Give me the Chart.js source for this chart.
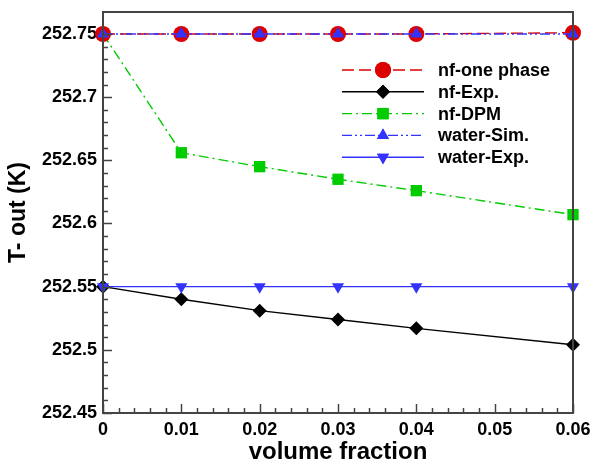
<!DOCTYPE html>
<html>
<head>
<meta charset="utf-8">
<script src="https://cdn.jsdelivr.net/npm/chart.js@4/dist/chart.umd.min.js"></script>
<style>
html,body{margin:0;padding:0;background:#fff;}
#wrap{width:591px;height:463px;position:relative;}
</style>
</head>
<body>
<div id="wrap"><canvas id="c" width="591" height="463"></canvas></div>
<script>
// ---- data ----
const volumeFraction = [0, 0.01, 0.02, 0.03, 0.04, 0.06];
const nfOnePhase = [252.75, 252.75, 252.75, 252.75, 252.75, 252.751];
const nfExp      = [252.55, 252.54, 252.531, 252.524, 252.517, 252.504];
const nfDPM      = [252.75, 252.656, 252.645, 252.635, 252.626, 252.607];
const waterSim   = [252.75, 252.75, 252.75, 252.75, 252.75, 252.75];
const waterExp   = [252.55, 252.55, 252.55, 252.55, 252.55, 252.55];

const xTicks = [0, 0.01, 0.02, 0.03, 0.04, 0.05, 0.06];
const xTickLabels = ['0', '0.01', '0.02', '0.03', '0.04', '0.05', '0.06'];
const yTicks = [252.45, 252.5, 252.55, 252.6, 252.65, 252.7, 252.75];
const yTickLabels = ['252.45', '252.5', '252.55', '252.6', '252.65', '252.7', '252.75'];
const xMinorStep = 0.002;
const yMinorStep = 0.01;

const FONT = '"Liberation Sans", Arial, sans-serif';
const RED = 'rgb(220,0,0)';
const GREEN = 'rgb(0,204,0)';
const BLUE = 'rgb(51,51,255)';
const BLACK = '#000';

function pts(ys){ return volumeFraction.map((x,i)=>({x:x, y:ys[i]})); }

const datasets = [
  {label:'nf-one phase', data:pts(nfOnePhase), borderColor:RED, backgroundColor:RED, borderDash:[12,5],
   pointStyle:'circle', pointRadius:8, order:2},
  {label:'nf-Exp.', data:pts(nfExp), borderColor:BLACK, backgroundColor:BLACK, borderDash:[],
   pointStyle:'rectRot', pointRadius:7, order:4},
  {label:'nf-DPM', data:pts(nfDPM), borderColor:GREEN, backgroundColor:GREEN, borderDash:[10,4,2,4],
   pointStyle:'rect', pointRadius:8, order:3},
  {label:'water-Sim.', data:pts(waterSim), borderColor:BLUE, backgroundColor:BLUE, borderDash:[10,3,2,3,2,3],
   pointStyle:'triangle', pointRadius:7, order:1},
  {label:'water-Exp.', data:pts(waterExp), borderColor:BLUE, backgroundColor:BLUE, borderDash:[],
   pointStyle:'triangle', pointRotation:180, pointRadius:7, order:0},
];
datasets.forEach(d=>{ d.borderWidth=1.4; d.pointBorderWidth=0; d.clip=false; d.tension=0; d.pointHoverRadius=d.pointRadius; });

const framePlugin = {
  id:'frame',
  afterDatasetsDraw(chart){
    const {ctx, chartArea:a, scales} = chart;
    const xs = scales.x, ys = scales.y;
    ctx.save();
    ctx.strokeStyle = '#444';
    ctx.lineWidth = 2;
    ctx.beginPath();
    ctx.rect(a.left, a.top, a.right - a.left, a.bottom - a.top);
    ctx.stroke();
    ctx.lineWidth = 1.5;
    ctx.beginPath();
    const xMin = xs.min, xMax = xs.max;
    const nx = Math.round((xMax - xMin) / xMinorStep);
    for (let i = 0; i <= nx; i++) {
      const v = xMin + i * xMinorStep;
      const px = Math.round(xs.getPixelForValue(v)) + 0.5;
      const major = i % 5 === 0;
      ctx.moveTo(px, a.bottom);
      ctx.lineTo(px, a.bottom - (major ? 9 : 5));
    }
    const y0 = yTicks[0];
    const ny = Math.round((yTicks[yTicks.length-1] - y0) / yMinorStep);
    for (let i = 0; i <= ny; i++) {
      const v = y0 + i * yMinorStep;
      const py = Math.round(ys.getPixelForValue(v)) + 0.5;
      const major = i % 5 === 0;
      ctx.moveTo(a.left, py);
      ctx.lineTo(a.left + (major ? 9 : 5), py);
    }
    ctx.stroke();
    ctx.restore();
  }
};

const legendPlugin = {
  id:'customLegend',
  afterDraw(chart){
    const {ctx, chartArea:a} = chart;
    const x0 = a.left + 239, x1 = a.left + 321, xm = (x0 + x1) / 2, xt = a.left + 335;
    let y = a.top + 58;
    const dy = 21.8;
    ctx.save();
    chart.data.datasets.forEach(ds => {
      ctx.strokeStyle = ds.borderColor;
      ctx.lineWidth = ds.borderWidth;
      ctx.setLineDash(ds.borderDash || []);
      ctx.beginPath();
      ctx.moveTo(x0, y); ctx.lineTo(x1, y);
      ctx.stroke();
      ctx.setLineDash([]);
      ctx.fillStyle = ds.backgroundColor;
      Chart.helpers.drawPoint(ctx, {pointStyle: ds.pointStyle, radius: ds.pointRadius, rotation: ds.pointRotation || 0, borderWidth: 0}, xm, y);
      ctx.fill();
      ctx.fillStyle = '#000';
      ctx.font = 'bold 18px ' + FONT;
      ctx.textBaseline = 'middle';
      ctx.textAlign = 'left';
      ctx.fillText(ds.label, xt, y + 1);
      y += dy;
    });
    ctx.restore();
  }
};

new Chart(document.getElementById('c'), {
  type:'line',
  data:{datasets},
  plugins:[framePlugin, legendPlugin],
  options:{
    responsive:false,
    animation:false,
    events:[],
    layout:{padding:{top:12, right:18, left:0, bottom:0}},
    plugins:{legend:{display:false}, tooltip:{enabled:false}},
    scales:{
      x:{
        type:'linear', min:0, max:0.06,
        grid:{display:false, drawTicks:false},
        border:{display:false},
        afterBuildTicks(s){ s.ticks = xTicks.map(v=>({value:v})); },
        afterFit(s){ s.height = 50; s.paddingLeft = 0; s.paddingRight = 0; },
        ticks:{padding:6, color:'#000', font:{family:FONT, size:18, weight:'bold'}, maxRotation:0,
          callback:(v,i)=>xTickLabels[i]},
        title:{display:true, text:'volume fraction', color:'#000', padding:{top:0,bottom:0},
          font:{family:FONT, size:24, weight:'bold', lineHeight:0.9}}
      },
      y:{
        type:'linear', min:252.45, max:252.7674,
        grid:{display:false, drawTicks:false},
        border:{display:false},
        afterBuildTicks(s){ s.ticks = yTicks.map(v=>({value:v})); },
        afterFit(s){ s.width = 103; s.paddingTop = 0; s.paddingBottom = 0; },
        ticks:{padding:6, color:'#000', font:{family:FONT, size:18, weight:'bold'},
          callback:(v,i)=>yTickLabels[i]},
        title:{display:true, text:'T- out (K)', color:'#000', padding:{top:6,bottom:0},
          font:{family:FONT, size:23, weight:'bold', lineHeight:1.1}}
      }
    }
  }
});
</script>
</body>
</html>
